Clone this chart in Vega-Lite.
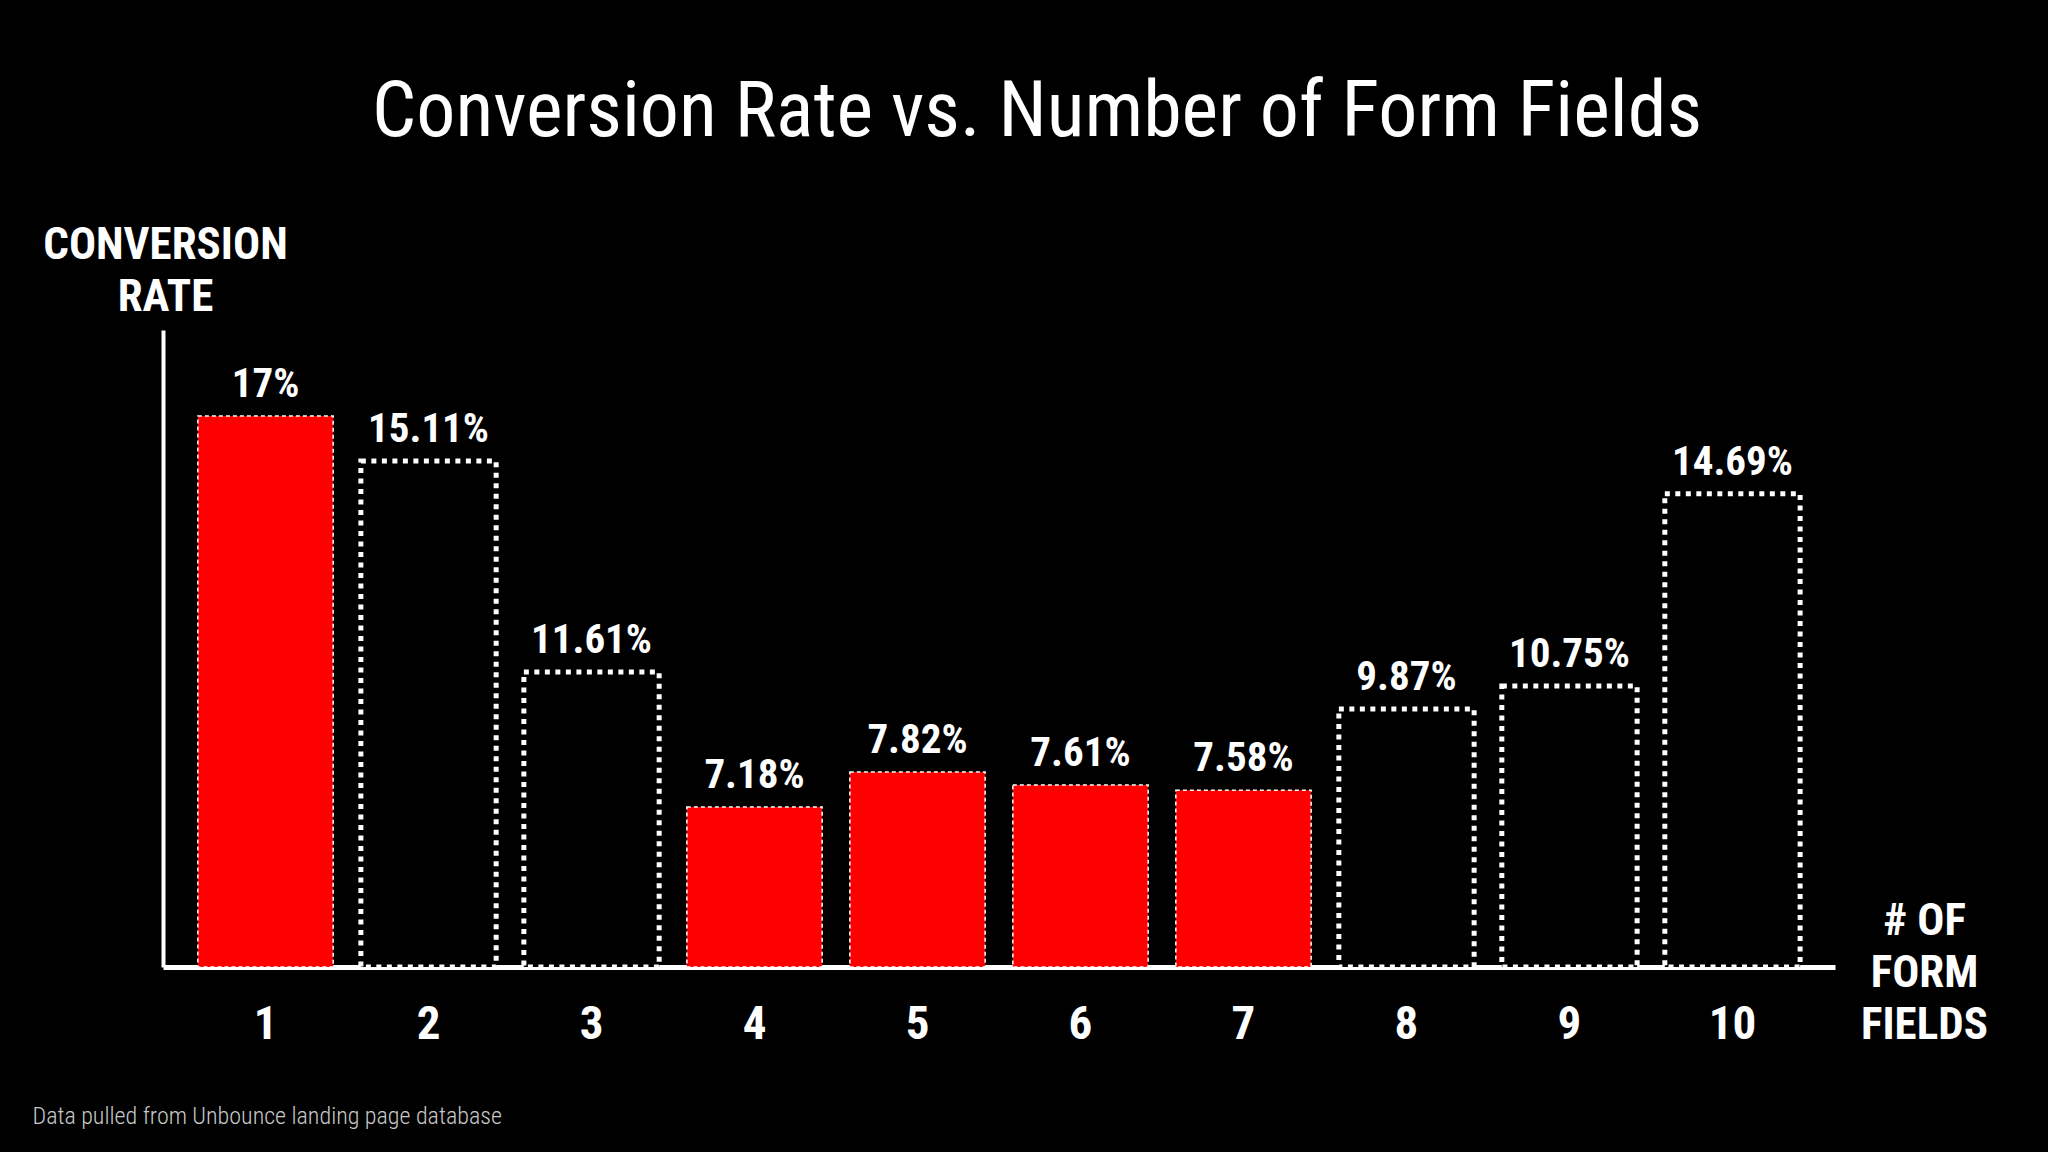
{
  "$schema": "https://vega.github.io/schema/vega-lite/v6.json",
  "description": "Conversion rate vs. number of form fields (Unbounce)",
  "width": 1672,
  "height": 637,
  "autosize": "none",
  "padding": {"left": 163, "top": 330, "right": 213, "bottom": 185},
  "background": "#000000",
  "title": {
    "text": "Conversion Rate vs. Number of Form Fields",
    "font": "Roboto Condensed, DejaVu Sans Condensed, Roboto, sans-serif",
    "fontSize": 78,
    "fontWeight": "normal",
    "color": "#ffffff",
    "anchor": "middle",
    "frame": "group",
    "baseline": "alphabetic",
    "dx": 38,
    "offset": 8
  },
  "data": {
    "values": [
      {"fields": 1, "rate": "17%", "height": 16.98, "group": "highlight"},
      {"fields": 2, "rate": "15.11%", "height": 15.59, "group": "outline"},
      {"fields": 3, "rate": "11.61%", "height": 9.09, "group": "outline"},
      {"fields": 4, "rate": "7.18%", "height": 4.93, "group": "highlight"},
      {"fields": 5, "rate": "7.82%", "height": 6.01, "group": "highlight"},
      {"fields": 6, "rate": "7.61%", "height": 5.61, "group": "highlight"},
      {"fields": 7, "rate": "7.58%", "height": 5.45, "group": "highlight"},
      {"fields": 8, "rate": "9.87%", "height": 7.95, "group": "outline"},
      {"fields": 9, "rate": "10.75%", "height": 8.66, "group": "outline"},
      {"fields": 10, "rate": "14.69%", "height": 14.58, "group": "outline"}
    ]
  },
  "layer": [
    {
      "encoding": {
        "x": {
          "field": "fields",
          "type": "ordinal",
          "scale": {"paddingInner": 0.17, "paddingOuter": 0.214},
          "axis": {
            "title": ["# OF", "FORM", "FIELDS"],
            "titleFont": "Roboto Condensed, DejaVu Sans Condensed, Roboto, sans-serif",
            "titleFontSize": 45,
            "titleFontWeight": "bold",
            "titleColor": "#ffffff",
            "titleAlign": "center",
            "titleBaseline": "alphabetic",
            "titleLineHeight": 52,
            "titleX": 1761,
            "titleY": -33,
            "labelAngle": 0,
            "labelFont": "Roboto Condensed, DejaVu Sans Condensed, Roboto, sans-serif",
            "labelFontSize": 47,
            "labelFontWeight": "bold",
            "labelColor": "#ffffff",
            "labelBaseline": "alphabetic",
            "labelPadding": 71,
            "ticks": false,
            "tickSize": 0,
            "domainColor": "#ffffff",
            "domainWidth": 5,
            "grid": false
          }
        },
        "y": {
          "field": "height",
          "type": "quantitative",
          "scale": {"domain": [0, 19.63], "nice": false},
          "axis": {
            "title": ["CONVERSION", "RATE"],
            "titleFont": "Roboto Condensed, DejaVu Sans Condensed, Roboto, sans-serif",
            "titleFontSize": 45,
            "titleFontWeight": "bold",
            "titleColor": "#ffffff",
            "titleAngle": 0,
            "titleAlign": "center",
            "titleBaseline": "alphabetic",
            "titleLineHeight": 52,
            "titleX": 2,
            "titleY": -72,
            "labels": false,
            "ticks": false,
            "grid": false,
            "domainColor": "#ffffff",
            "domainWidth": 4
          }
        }
      },
      "layer": [
        {
          "transform": [{"filter": "datum.group === 'outline'"}],
          "mark": {
            "type": "bar",
            "fill": "#000000",
            "stroke": "#ffffff",
            "strokeWidth": 5,
            "strokeDash": [5, 5.5]
          }
        },
        {
          "transform": [{"filter": "datum.group === 'highlight'"}],
          "mark": {
            "type": "bar",
            "fill": "#ff0000",
            "stroke": "#ffffff",
            "strokeWidth": 1.5,
            "strokeDash": [4, 3]
          }
        },
        {
          "mark": {
            "type": "text",
            "font": "Roboto Condensed, DejaVu Sans Condensed, Roboto, sans-serif",
            "fontSize": 41,
            "fontWeight": "bold",
            "color": "#ffffff",
            "baseline": "alphabetic",
            "dy": -19
          },
          "encoding": {"text": {"field": "rate"}}
        }
      ]
    },
    {
      "mark": {"type": "text", "text": ""},
      "encoding": {
        "y": {
          "datum": 0,
          "type": "quantitative",
          "axis": {
            "orient": "right",
            "title": "Data pulled from Unbounce landing page database",
            "titleFont": "Roboto Condensed, DejaVu Sans Condensed, Roboto, sans-serif",
            "titleFontSize": 24,
            "titleFontWeight": 300,
            "titleColor": "#c8c8c8",
            "titleAngle": 0,
            "titleAlign": "left",
            "titleBaseline": "alphabetic",
            "titleX": -1803,
            "titleY": 793,
            "labels": false,
            "ticks": false,
            "domain": false,
            "grid": false
          }
        }
      }
    }
  ],
  "resolve": {"scale": {"y": "independent"}, "axis": {"y": "independent"}},
  "config": {"view": {"stroke": null}}
}
